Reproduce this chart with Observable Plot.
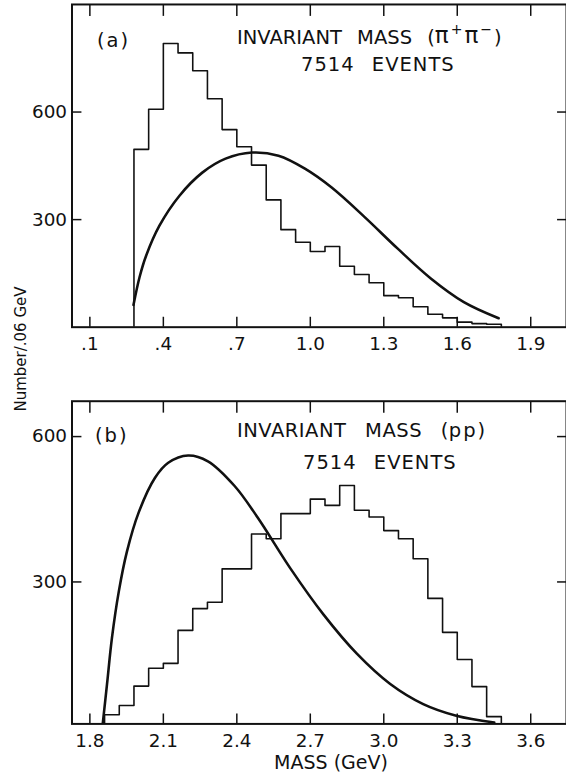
<!DOCTYPE html>
<html><head><meta charset="utf-8">
<script src="https://cdn.jsdelivr.net/npm/d3@7"></script>
<script src="https://cdn.jsdelivr.net/npm/@observablehq/plot@0.6"></script>
<style>
html,body{margin:0;padding:0;background:#fff;overflow:hidden;}
#wrap{position:relative;width:566px;height:779px;overflow:hidden;font-family:"DejaVu Sans",sans-serif;color:#111;}
#wrap svg{position:absolute;left:0;}
.lbl{position:absolute;white-space:nowrap;line-height:1;font-family:"DejaVu Sans",sans-serif;color:#111;}
</style></head><body>
<div id="wrap"></div>
<script>
// ---- data ----
const binWidth = 0.06;

// panel (a): pi+ pi- invariant mass
const binStartA = 0.28;
const countsA = [496,608,791,765,715,637,551,503,452,355,272,237,211,225,170,147,124,88,82,57,36,26,14,10,8];
const curveMassA = [0.278,0.303,0.330,0.384,0.465,0.559,0.654,0.762,0.870,0.978,1.086,1.222,1.357,1.492,1.627,1.769];
const curveCountA = [62,140,200,283,366,431,470,487,478,442,390,307,219,136,70,25];
const ticksA = [0.1,0.4,0.7,1.0,1.3,1.6,1.9];
const tickLabelsA = [".1",".4",".7","1.0","1.3","1.6","1.9"];

// panel (b): p pbar invariant mass
const binStartB = 1.86;
const countsB = [26,45,85,122,132,200,245,258,327,327,399,389,441,441,471,458,499,448,434,406,389,348,266,196,140,84,22];
const curveMassB = [1.852,1.870,1.890,1.918,1.951,1.999,2.066,2.120,2.201,2.282,2.391,2.485,2.620,2.755,2.890,3.025,3.161,3.296,3.451];
const curveCountB = [5,89,184,280,362,443,515,546,561,549,498,433,327,232,152,90,48,24,10];
const ticksB = [1.8,2.1,2.4,2.7,3.0,3.3,3.6];
const tickLabelsB = ["1.8","2.1","2.4","2.7","3.0","3.3","3.6"];

const yTicks = [300,600];
const yTickLabels = ["300","600"];

// ---- helpers ----
function stepPoints(start, counts) {
  const pts = [{x: start, y: 0}];
  counts.forEach((c, i) => pts.push({x: start + i * binWidth, y: c}));
  const end = start + counts.length * binWidth;
  pts.push({x: end, y: counts[counts.length - 1]});
  pts.push({x: end, y: 0});
  return pts;
}

function panel(o) {
  const fmtX = v => o.tickLabels[o.ticks.findIndex(t => Math.abs(t - v) < 1e-6)];
  const fmtY = v => yTickLabels[yTicks.findIndex(t => Math.abs(t - v) < 1e-6)];
  const curve = o.cm.map((m, i) => ({x: m, y: o.cc[i]}));
  const svg = Plot.plot({
    width: 570, height: o.h,
    marginLeft: 72, marginRight: 0, marginTop: o.mt, marginBottom: o.mb,
    style: {fontFamily: "DejaVu Sans, sans-serif", fontSize: "18px", color: "#111", background: "transparent", overflow: "visible"},
    x: {domain: o.xDomain},
    y: {domain: o.yDomain},
    marks: [
      Plot.axisX({anchor: "bottom", ticks: o.ticks, tickFormat: fmtX, tickSize: 10, insetBottom: 10, tickPadding: 10, label: null, fontSize: 18.5, strokeWidth: 1.5}),
      Plot.axisX({anchor: "top", ticks: o.ticks, tickSize: 11, insetTop: 11, fill: "none", label: null, strokeWidth: 1.5}),
      Plot.axisY({anchor: "left", ticks: yTicks, tickFormat: fmtY, tickSize: 10, insetLeft: 10, tickPadding: 5, label: null, fontSize: 18.5, strokeWidth: 1.5}),
      Plot.axisY({anchor: "right", ticks: yTicks, tickSize: 10, insetRight: 10, fill: "none", label: null, strokeWidth: 1.5}),
      Plot.line(stepPoints(o.start, o.counts), {x: "x", y: "y", curve: "step-after", stroke: "#111", strokeWidth: 1.6, clip: true}),
      Plot.line(curve, {x: "x", y: "y", curve: "catmull-rom", stroke: "#111", strokeWidth: 2.6, clip: true}),
      Plot.frame({stroke: "#111", strokeWidth: 2})
    ]
  });
  svg.style.top = o.top + "px";
  return svg;
}

const wrap = document.getElementById("wrap");
wrap.appendChild(panel({
  xDomain: [0.027, 2.046], yDomain: [0, 900],
  ticks: ticksA, tickLabels: tickLabelsA,
  start: binStartA, counts: countsA, cm: curveMassA, cc: curveCountA,
  top: 0, h: 360, mt: 4, mb: 31
}));
wrap.appendChild(panel({
  xDomain: [1.727, 3.746], yDomain: [7, 673],
  ticks: ticksB, tickLabels: tickLabelsB,
  start: binStartB, counts: countsB, cm: curveMassB, cc: curveCountB,
  top: 360, h: 419, mt: 41, mb: 53
}));

function label(html, css) {
  const d = document.createElement("div");
  d.className = "lbl";
  d.innerHTML = html;
  Object.assign(d.style, css);
  wrap.appendChild(d);
}
label("(a)", {left: "97px", top: "31px", fontSize: "19.5px", letterSpacing: "2px"});
label("INVARIANT MASS (<span style='font-size:23px;letter-spacing:2px'>π<sup style='font-size:14px'>+</sup>π<sup style='font-size:14px'>−</sup></span>)", {left: "237px", top: "22.5px", fontSize: "19.5px", wordSpacing: "9px"});
label("7514 EVENTS", {left: "301px", top: "54.5px", fontSize: "19.5px", wordSpacing: "10px", letterSpacing: "1px"});
label("(b)", {left: "95px", top: "426px", fontSize: "19.5px", letterSpacing: "2px"});
label("INVARIANT MASS (<span style='letter-spacing:2px'>pp</span>)", {left: "237px", top: "421px", fontSize: "19.5px", wordSpacing: "12px", letterSpacing: "0.5px"});
label("7514 EVENTS", {left: "303px", top: "452.5px", fontSize: "19.5px", wordSpacing: "10px", letterSpacing: "1px"});
label("MASS (GeV)", {left: "331px", top: "753px", fontSize: "19px", transform: "translateX(-50%)"});
label("Number/.06 GeV", {left: "21px", top: "349px", fontSize: "15px", transform: "translate(-50%,-50%) rotate(-90deg)"});
</script>
</body></html>
